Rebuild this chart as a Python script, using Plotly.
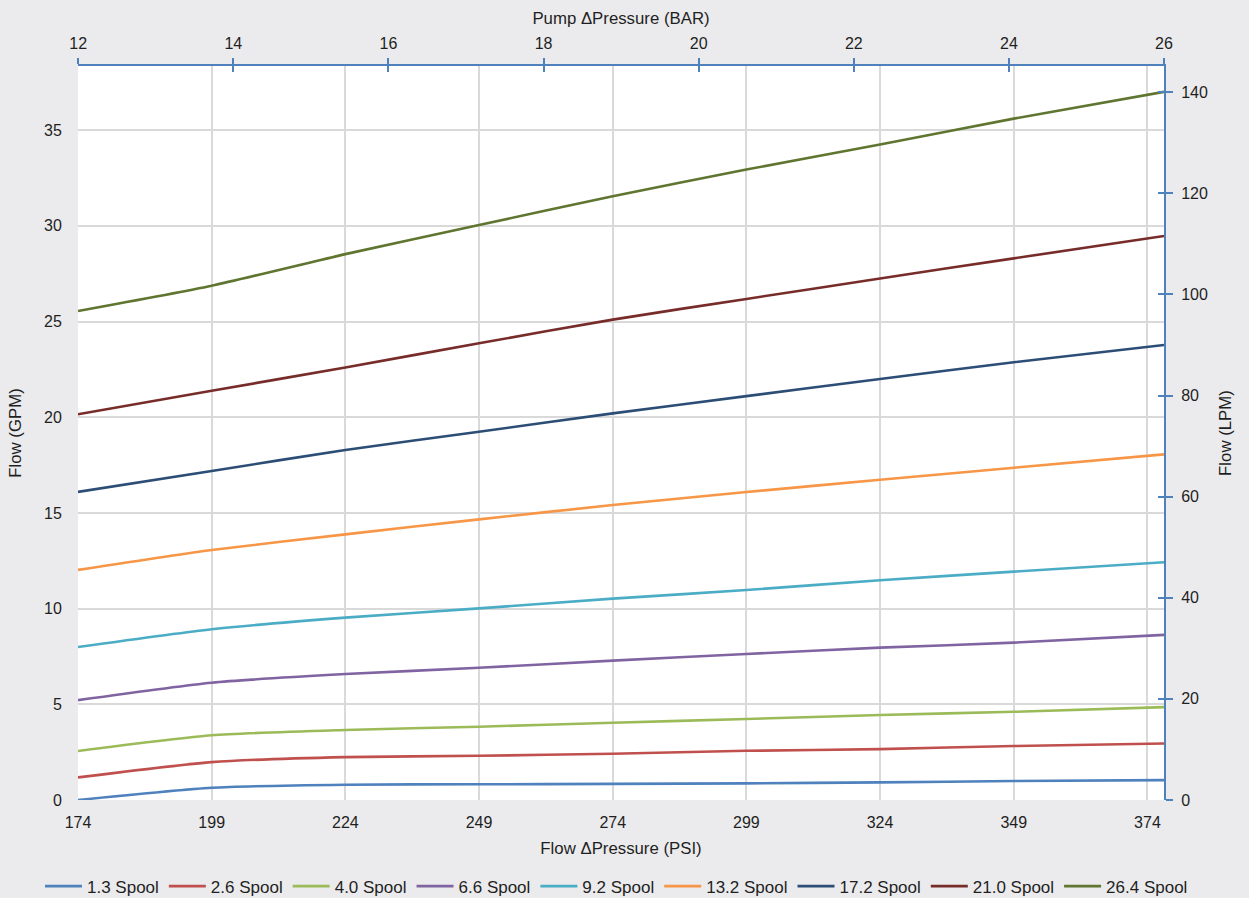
import plotly.graph_objects as go

# Flow ΔPressure (PSI) sample points (last point = 26 bar)
psi = [174, 199, 224, 249, 274, 299, 324, 349, 377.1]

series_names = ["1.3 Spool", "2.6 Spool", "4.0 Spool", "6.6 Spool", "9.2 Spool",
                "13.2 Spool", "17.2 Spool", "21.0 Spool", "26.4 Spool"]

spool_1_3 = [0.00, 0.64, 0.80, 0.82, 0.84, 0.87, 0.92, 0.99, 1.04]
spool_2_6 = [1.18, 1.98, 2.24, 2.31, 2.42, 2.57, 2.66, 2.82, 2.95]
spool_4_0 = [2.56, 3.38, 3.66, 3.83, 4.04, 4.23, 4.44, 4.61, 4.85]
spool_6_6 = [5.22, 6.13, 6.58, 6.91, 7.28, 7.63, 7.96, 8.22, 8.63]
spool_9_2 = [7.99, 8.92, 9.53, 10.01, 10.52, 10.97, 11.48, 11.93, 12.42]
spool_13_2 = [12.02, 13.06, 13.88, 14.66, 15.41, 16.09, 16.73, 17.36, 18.06]
spool_17_2 = [16.10, 17.19, 18.29, 19.24, 20.20, 21.10, 22.00, 22.87, 23.77]
spool_21_0 = [20.15, 21.38, 22.60, 23.86, 25.10, 26.18, 27.25, 28.30, 29.47]
spool_26_4 = [25.55, 26.87, 28.52, 30.04, 31.55, 32.94, 34.25, 35.60, 37.00]

colors = ["#4f81bd", "#c0504d", "#9bbb59", "#8064a2", "#4bacc6",
          "#f79646", "#2c4d75", "#772c2a", "#5f7530"]

bottom_ticks = [174, 199, 224, 249, 274, 299, 324, 349, 374]
bar_ticks = [12, 14, 16, 18, 20, 22, 24, 26]

PSI_PER_BAR = 14.5038
LPM_PER_GPM = 3.78541
gpm_max = 38.35
psi_min, psi_max = 174.0, 26 * PSI_PER_BAR

all_series = [spool_1_3, spool_2_6, spool_4_0, spool_6_6, spool_9_2,
              spool_13_2, spool_17_2, spool_21_0, spool_26_4]

fig = go.Figure()
for name, ys, c in zip(series_names, all_series, colors):
    fig.add_trace(go.Scatter(x=psi, y=ys, name=name, mode="lines",
                             line=dict(color=c, width=2.6, shape="spline", smoothing=0.6),
                             hoverinfo="skip"))

# invisible traces to activate secondary axes
fig.add_trace(go.Scatter(x=[bar_ticks[0], bar_ticks[-1]], y=[0, gpm_max * LPM_PER_GPM],
                         xaxis="x2", yaxis="y2", mode="markers", marker=dict(opacity=0),
                         showlegend=False, hoverinfo="skip"))
fig.add_trace(go.Scatter(x=[bar_ticks[0], bar_ticks[-1]], y=[0, gpm_max * LPM_PER_GPM],
                         xaxis="x3", yaxis="y3", mode="markers", marker=dict(opacity=0),
                         showlegend=False, hoverinfo="skip"))

font = "Liberation Sans, Arial, sans-serif"
blue = "#4f81bd"
grid = "#d9d9d9"
bar_range = [psi_min / PSI_PER_BAR, 26]
lpm_range = [0, gpm_max * LPM_PER_GPM]
tick_size = 16
title_size = 16.8

fig.update_layout(
    width=1249, height=898,
    paper_bgcolor="#ebebed", plot_bgcolor="#ffffff",
    margin=dict(l=78, r=85, t=66, b=98, autoexpand=False),
    font=dict(family=font, size=tick_size, color="#1f1f1f"),
    xaxis=dict(range=[psi_min, psi_max], tickvals=bottom_ticks,
               showgrid=True, gridcolor=grid, gridwidth=2, zeroline=False,
               showline=False, ticks="outside", ticklen=8, tickcolor="rgba(0,0,0,0)",
               tickfont=dict(size=tick_size),
               title=dict(text="Flow ΔPressure (PSI)", font=dict(size=title_size), standoff=12)),
    xaxis2=dict(range=bar_range, tickvals=bar_ticks, overlaying="x", side="top",
                anchor="y", showgrid=False, zeroline=False, showline=True,
                linecolor=blue, linewidth=2, ticks="outside", ticklen=6,
                tickcolor=blue, tickwidth=2, tickfont=dict(size=tick_size),
                ticklabelstandoff=3,
                title=dict(text="Pump ΔPressure (BAR)", font=dict(size=title_size), standoff=6)),
    xaxis3=dict(range=bar_range, tickvals=bar_ticks, overlaying="x", side="top",
                anchor="y", showgrid=False, zeroline=False, showline=False,
                ticks="inside", ticklen=6, tickcolor=blue, tickwidth=2,
                showticklabels=False),
    yaxis=dict(range=[0, gpm_max], dtick=5, showgrid=True, gridcolor=grid, gridwidth=2,
               zeroline=False, showline=False, ticks="outside", ticklen=12,
               tickcolor="rgba(0,0,0,0)", tickfont=dict(size=tick_size),
               title=dict(text="Flow (GPM)", font=dict(size=title_size), standoff=18)),
    yaxis2=dict(range=lpm_range, dtick=20, overlaying="y", side="right",
                anchor="x", showgrid=False, zeroline=False, showline=True,
                linecolor=blue, linewidth=2, ticks="outside", ticklen=7,
                tickcolor=blue, tickwidth=2, tickfont=dict(size=tick_size),
                ticklabelstandoff=5,
                title=dict(text="Flow (LPM)", font=dict(size=title_size), standoff=12)),
    yaxis3=dict(range=lpm_range, dtick=20, overlaying="y", side="right",
                anchor="x", showgrid=False, zeroline=False, showline=False,
                ticks="inside", ticklen=6, tickcolor=blue, tickwidth=2,
                showticklabels=False),
    legend=dict(orientation="h", x=-0.035, xanchor="left", y=-0.118, yanchor="middle",
                font=dict(size=17), bgcolor="rgba(0,0,0,0)", traceorder="normal",
                itemwidth=37),
    showlegend=True,
)

fig.write_html("out.html", config={"displayModeBar": False},
               post_script="document.body.style.margin='0';")
